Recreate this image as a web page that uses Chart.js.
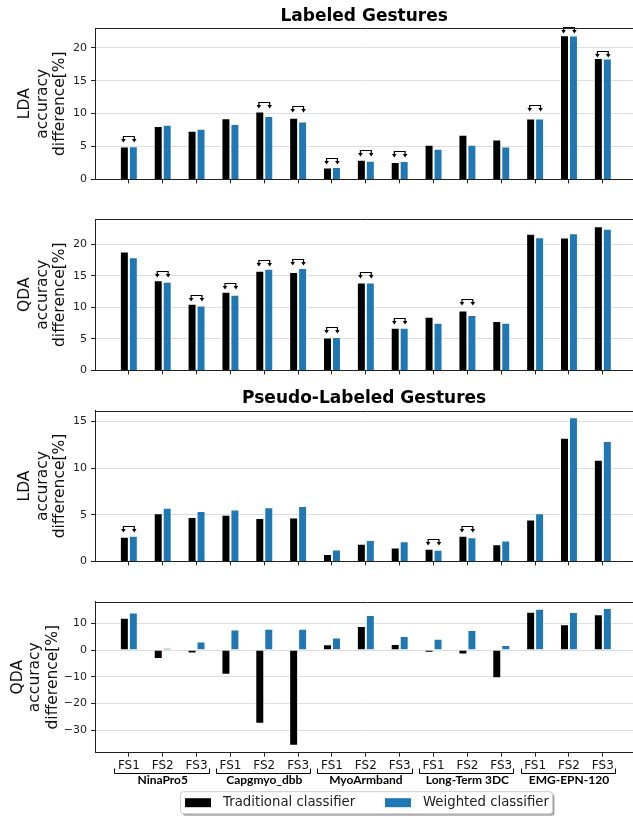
<!DOCTYPE html>
<html>
<head>
<meta charset="utf-8">
<script src="https://cdn.jsdelivr.net/npm/chart.js@4.4.1/dist/chart.umd.min.js"></script>
<style>
html, body { margin: 0; padding: 0; background: #fff; overflow: hidden; width: 633px; height: 817px; }
canvas { position: absolute; left: 0; }
</style>
</head>
<body>
<canvas id="c1" width="640" height="190" style="top:0px"></canvas>
<canvas id="c2" width="640" height="191" style="top:190px"></canvas>
<canvas id="c3" width="640" height="191" style="top:381px"></canvas>
<canvas id="c4" width="640" height="245" style="top:572px"></canvas>
<script>
// categories: 5 datasets x 3 feature sets
const categories = ['FS1', 'FS2', 'FS3', 'FS1', 'FS2', 'FS3', 'FS1', 'FS2', 'FS3', 'FS1', 'FS2', 'FS3', 'FS1', 'FS2', 'FS3'];
const groups = ['NinaPro5', 'Capgmyo_dbb', 'MyoArmband', 'Long-Term 3DC', 'EMG-EPN-120'];
const seriesNames = ['Traditional classifier', 'Weighted classifier'];

// accuracy difference [%]
const ldaLabeledTrad     = [5.0, 8.1, 7.4, 9.3, 10.3, 9.35, 1.8, 3.0, 2.65, 5.25, 6.8, 6.05, 9.25, 21.9, 18.45];
const ldaLabeledWeighted = [5.05, 8.3, 7.7, 8.4, 9.65, 8.8, 1.88, 2.85, 2.8, 4.65, 5.25, 5.0, 9.25, 21.85, 18.35];
const qdaLabeledTrad     = [18.85, 14.3, 10.55, 12.45, 15.8, 15.6, 5.2, 13.95, 6.75, 8.5, 9.5, 7.85, 21.65, 21.05, 22.85];
const qdaLabeledWeighted = [17.95, 14.05, 10.3, 12.0, 16.1, 16.25, 5.3, 13.95, 6.75, 7.55, 8.8, 7.55, 21.1, 21.75, 22.45];
const ldaPseudoTrad      = [2.65, 5.15, 4.75, 5.0, 4.65, 4.7, 0.8, 1.9, 1.5, 1.35, 2.75, 1.85, 4.5, 13.25, 10.9];
const ldaPseudoWeighted  = [2.75, 5.75, 5.4, 5.55, 5.8, 5.95, 1.28, 2.28, 2.15, 1.25, 2.6, 2.25, 5.15, 15.45, 12.9];
const qdaPseudoTrad      = [12.1, -3.3, -1.3, -9.2, -27.6, -35.8, 2.2, 9.0, 2.3, -1.0, -1.7, -10.5, 14.3, 9.7, 13.4];
const qdaPseudoWeighted  = [14.1, 0.8, 3.2, 7.7, 8.0, 8.0, 4.7, 13.1, 5.3, 4.2, 7.5, 1.9, 15.5, 14.2, 15.7];

// bracket marks (category index + level of the bracket)
const ldaLabeledBrackets = [0, 4, 5, 6, 7, 8, 12, 13, 14];
const ldaLabeledLevels   = [6.57, 11.77, 11.1, 3.28, 4.44, 4.29, 11.26, 23.1, 19.5];
const qdaLabeledBrackets = [1, 2, 3, 4, 5, 6, 7, 8, 10];
const qdaLabeledLevels   = [15.74, 11.9, 13.84, 17.47, 17.58, 6.84, 15.58, 8.32, 11.26];
const ldaPseudoBrackets  = [0, 9, 10];
const ldaPseudoLevels    = [3.77, 2.42, 3.77];

// y tick labels
const ticksLabeled = [0, 5, 10, 15, 20];
const ticksLdaPseudo = [0, 5, 10, 15];
const ticksQdaPseudo = [-30, -20, -10, 0, 10];

Chart.defaults.font.family = 'DejaVu Sans';
Chart.defaults.color = '#222';

const colors = ['#000000', '#1f77b4'];

const topSpine = {
  id: 'topSpine',
  afterDraw(chart) {
    const ctx = chart.ctx, a = chart.chartArea;
    const y = Math.round(a.top) + 0.5;
    ctx.save();
    ctx.strokeStyle = '#222';
    ctx.lineWidth = 1;
    ctx.beginPath();
    ctx.moveTo(a.left, y);
    ctx.lineTo(chart.width, y);
    ctx.stroke();
    ctx.restore();
  }
};

const brackets = {
  id: 'sigBrackets',
  afterDatasetsDraw(chart, args, opts) {
    if (!opts.idx) return;
    const ctx = chart.ctx, x = chart.scales.x, y = chart.scales.y;
    ctx.save();
    ctx.strokeStyle = '#000';
    ctx.fillStyle = '#000';
    ctx.lineWidth = 1.2;
    opts.idx.forEach((c, k) => {
      const yl = Math.round(y.getPixelForValue(opts.levels[k])) + 0.5;
      const xa = x.getPixelForValue(c - 0.16), xb = x.getPixelForValue(c + 0.16);
      ctx.beginPath();
      ctx.moveTo(xa, yl + 3);
      ctx.lineTo(xa, yl);
      ctx.lineTo(xb, yl);
      ctx.lineTo(xb, yl + 3);
      ctx.stroke();
      [xa, xb].forEach(px => {
        ctx.beginPath();
        ctx.moveTo(px - 2.3, yl + 2.5);
        ctx.lineTo(px + 2.3, yl + 2.5);
        ctx.lineTo(px, yl + 6);
        ctx.closePath();
        ctx.fill();
      });
    });
    ctx.restore();
  }
};

// group brackets, dataset names and legend under the last panel
const bottomDecor = {
  id: 'bottomDecor',
  afterDraw(chart) {
    const ctx = chart.ctx, x = chart.scales.x;
    const base = chart.chartArea.bottom;
    ctx.save();
    ctx.strokeStyle = '#000';
    ctx.lineWidth = 1;
    const yl = Math.round(base + 20) + 0.5;
    groups.forEach((g, k) => {
      const a = Math.round(x.getPixelForValue(3 * k - 0.43)) + 0.5;
      const b = Math.round(x.getPixelForValue(3 * k + 2.36)) + 0.5;
      ctx.beginPath();
      ctx.moveTo(a, yl - 5);
      ctx.lineTo(a, yl);
      ctx.lineTo(b, yl);
      ctx.lineTo(b, yl - 5);
      ctx.stroke();
      ctx.fillStyle = '#000';
      ctx.font = 'bold 12px Lato';
      ctx.textAlign = 'center';
      ctx.textBaseline = 'middle';
      ctx.fillText(g, x.getPixelForValue(3 * k + 1), base + 27.5);
    });

    // legend box
    const bx = 180, by = base + 38.5, bw = 372, bh = 22;
    ctx.fillStyle = 'rgba(0,0,0,0.35)';
    ctx.beginPath();
    ctx.roundRect(bx + 2.5, by + 2.5, bw, bh, 3);
    ctx.fill();
    ctx.fillStyle = '#fff';
    ctx.strokeStyle = '#cccccc';
    ctx.beginPath();
    ctx.roundRect(bx + 0.5, by + 0.5, bw, bh, 3);
    ctx.fill();
    ctx.stroke();
    const items = chart.data.datasets;
    const swX = [185, 385], txX = [223, 423];
    ctx.font = '13.3px DejaVu Sans';
    ctx.textAlign = 'left';
    ctx.textBaseline = 'middle';
    items.forEach((d, i) => {
      ctx.fillStyle = d.backgroundColor;
      ctx.fillRect(swX[i], by + 7, 26, 9);
      ctx.fillStyle = '#222';
      ctx.fillText(d.label, txX[i], by + 11.5);
    });
    ctx.restore();
  }
};

function makeChart(id, trad, weighted, cfg) {
  const series = [trad, weighted];
  new Chart(document.getElementById(id), {
    type: 'bar',
    data: {
      datasets: series.map((vals, s) => ({
        label: seriesNames[s],
        data: vals.map((v, i) => ({ x: i, y: v })),
        backgroundColor: colors[s],
        borderColor: 'rgba(255,255,255,0.45)',
        borderWidth: 1,
        categoryPercentage: 0.53,
        barPercentage: 1.0
      }))
    },
    options: {
      responsive: false,
      animation: false,
      devicePixelRatio: 1,
      layout: { padding: { top: cfg.padTop || 0, right: 6.7, left: 0, bottom: 0 } },
      plugins: {
        legend: { display: false },
        tooltip: { enabled: false },
        title: cfg.title ? {
          display: true,
          text: cfg.title,
          fullSize: false,
          color: '#000',
          font: { family: 'DejaVu Sans', size: 17, weight: 'bold', lineHeight: '20px' },
          padding: cfg.titlePad
        } : { display: false },
        sigBrackets: cfg.brackets || {}
      },
      scales: {
        x: {
          type: 'linear',
          min: -1,
          max: 14.9,
          offset: false,
          grid: { display: true, drawOnChartArea: false, drawTicks: true, tickLength: 4, tickColor: '#222', offset: false },
          border: { display: true, color: '#222', width: 1 },
          ticks: {
            display: !!cfg.xLabels,
            autoSkip: false,
            maxRotation: 0,
            padding: 2,
            color: '#111',
            font: { size: 12 },
            callback: (v, i) => categories[i]
          },
          afterBuildTicks: s => { s.ticks = categories.map((c, i) => ({ value: i })); },
          afterFit: s => { s.height = cfg.xHeight; }
        },
        y: {
          min: cfg.yMin,
          max: cfg.yMax,
          grid: { color: '#dedede', lineWidth: 1, tickLength: 4, tickColor: '#222' },
          border: { display: true, color: '#222', width: 1 },
          ticks: {
            padding: 4,
            color: '#222',
            font: { size: 11 },
            callback: v => (v < 0 ? '\u2212' + Math.abs(v) : String(v))
          },
          afterBuildTicks: s => { s.ticks = cfg.yTicks.map(v => ({ value: v })); },
          afterFit: s => { s.width = 95; },
          title: {
            display: true,
            text: cfg.yTitle,
            color: '#111',
            font: { size: 15.5, lineHeight: '17.5px' },
            padding: { top: cfg.yTitlePad, bottom: 0 }
          }
        }
      }
    },
    plugins: [topSpine, brackets].concat(cfg.extra || [])
  });
}

makeChart('c1', ldaLabeledTrad, ldaLabeledWeighted, {
  title: 'Labeled Gestures', titlePad: { top: 6.5, bottom: 1.5 },
  yMin: 0, yMax: 23.0, yTicks: ticksLabeled, yTitle: ['LDA', 'accuracy', 'difference[%]'], yTitlePad: 16.25,
  xHeight: 10, brackets: { idx: ldaLabeledBrackets, levels: ldaLabeledLevels }
});
makeChart('c2', qdaLabeledTrad, qdaLabeledWeighted, {
  padTop: 29,
  yMin: 0, yMax: 24.0, yTicks: ticksLabeled, yTitle: ['QDA', 'accuracy', 'difference[%]'], yTitlePad: 16.25,
  xHeight: 10, brackets: { idx: qdaLabeledBrackets, levels: qdaLabeledLevels }
});
makeChart('c3', ldaPseudoTrad, ldaPseudoWeighted, {
  title: 'Pseudo-Labeled Gestures', titlePad: { top: 8, bottom: 1.7 },
  yMin: 0, yMax: 16.15, yTicks: ticksLdaPseudo, yTitle: ['LDA', 'accuracy', 'difference[%]'], yTitlePad: 16.25,
  xHeight: 10, brackets: { idx: ldaPseudoBrackets, levels: ldaPseudoLevels }
});
makeChart('c4', qdaPseudoTrad, qdaPseudoWeighted, {
  padTop: 29.7,
  yMin: -38.4, yMax: 18.1, yTicks: ticksQdaPseudo, yTitle: ['QDA', 'accuracy', 'difference[%]'], yTitlePad: 8.75,
  xHeight: 64.3, xLabels: true, extra: [bottomDecor]
});
</script>
</body>
</html>
